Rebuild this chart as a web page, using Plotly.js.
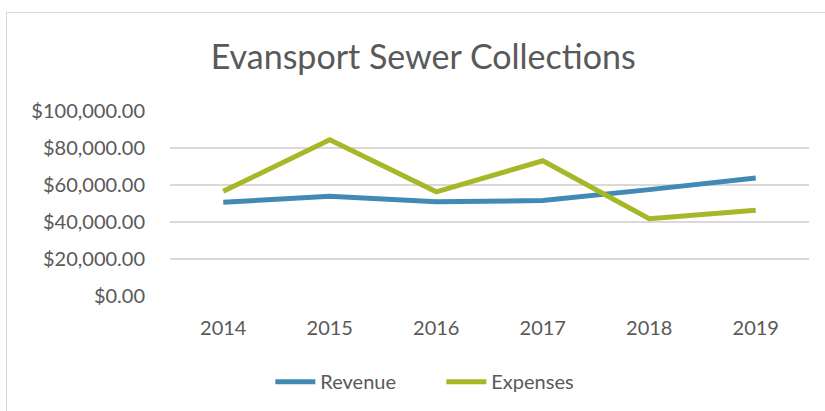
<!DOCTYPE html>
<html>
<head>
<meta charset="utf-8">
<script src="https://cdn.plot.ly/plotly-3.0.1.min.js"></script>
<style>
html,body{margin:0;padding:0;background:#fff;overflow:hidden;}
#chart{width:825px;height:411px;position:absolute;left:0;top:0;}
#frame{position:absolute;left:6px;top:12px;width:900px;height:500px;border:1px solid #d9d9d9;pointer-events:none;}
</style>
</head>
<body>
<div id="chart"></div>
<div id="frame"></div>
<script>
var years = ['2014','2015','2016','2017','2018','2019'];
var revenue = [50700, 53900, 50900, 51600, 57500, 63800];
var expenses = [56600, 84400, 56300, 73100, 41800, 46400];
var yTicks = [0, 20000, 40000, 60000, 80000, 100000];
var yTickText = ['$0.00','$20,000.00','$40,000.00','$60,000.00','$80,000.00','$100,000.00'];

var font = 'Lato, "Open Sans", sans-serif';
var data = [
  {x: years, y: revenue, name: 'Revenue', type: 'scatter', mode: 'lines',
   line: {color: '#418ab3', width: 5}},
  {x: years, y: expenses, name: 'Expenses', type: 'scatter', mode: 'lines',
   line: {color: '#a6b727', width: 5}}
];
var layout = {
  width: 825, height: 411,
  margin: {l: 170, r: 16, t: 111, b: 114},
  paper_bgcolor: '#fff', plot_bgcolor: '#fff',
  font: {family: font, color: '#595959', size: 20},
  title: {text: 'Evansport Sewer Collections', x: 0.513, xanchor: 'center', y: 0.862, yanchor: 'middle',
          font: {family: font, size: 34, color: '#595959'}},
  xaxis: {type: 'category', range: [-0.5, 5.5], showgrid: false, zeroline: false, showline: false,
          ticks: '', tickfont: {size: 20, color: '#595959'}, ticklabelstandoff: 18},
  yaxis: {range: [0, 100000], tickvals: yTicks, ticktext: yTickText,
          showgrid: true, gridcolor: '#d9d9d9', gridwidth: 1.5, zeroline: false,
          showline: false, ticks: '', ticklabelstandoff: 24, tickfont: {size: 20, color: '#595959'}},
  showlegend: true,
  legend: {orientation: 'h', x: 0.157, xanchor: 'left', y: -0.455, yanchor: 'middle',
           font: {size: 20, color: '#595959'}, itemwidth: 40, entrywidth: 116, traceorder: 'normal'}
};
Plotly.newPlot('chart', data, layout, {displayModeBar: false, staticPlot: true});
</script>
</body>
</html>
